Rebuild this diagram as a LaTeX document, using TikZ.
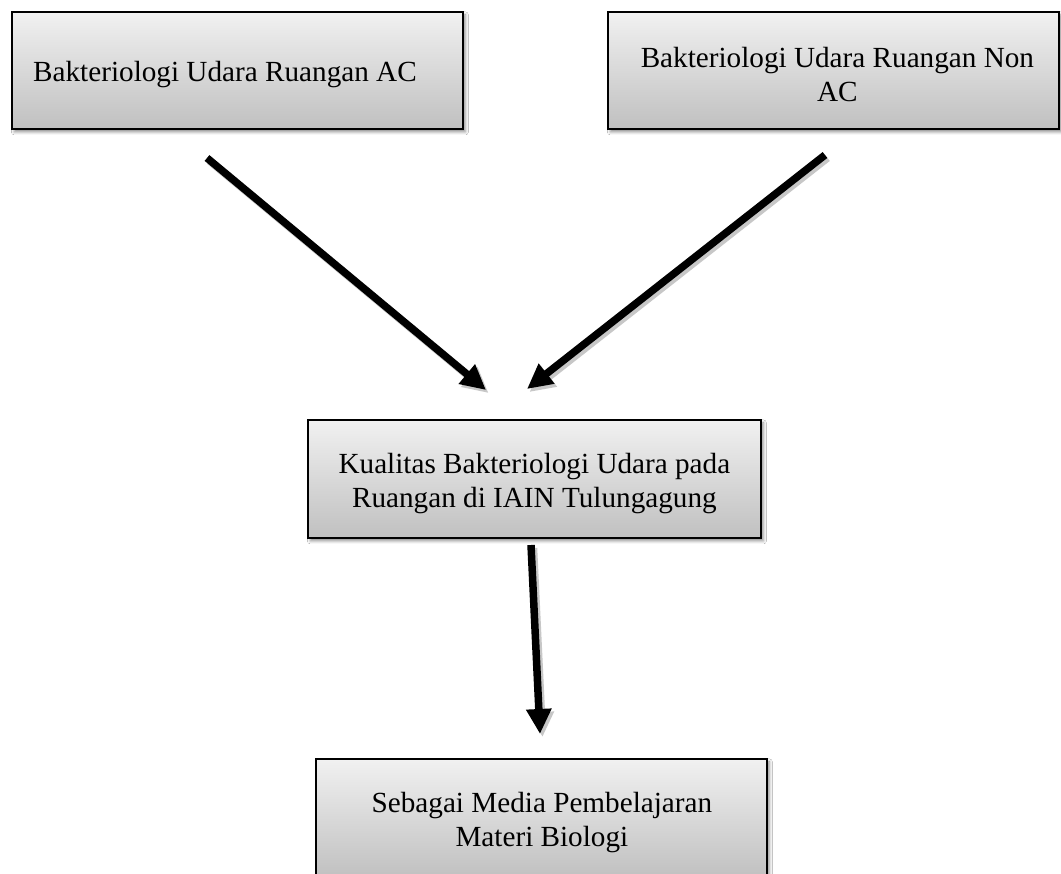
\documentclass[tikz,border=0pt]{standalone}
\usepackage{fontspec}
\setmainfont{Liberation Serif}
\usetikzlibrary{arrows.meta,shadows.blur}
\definecolor{boxtop}{RGB}{241,241,241}
\definecolor{boxbot}{RGB}{192,192,192}
\begin{document}
\begin{tikzpicture}[x=1pt,y=-1pt,
  box/.style={draw=black, line width=1.8pt, top color=boxtop, bottom color=boxbot,
    anchor=north west, inner sep=0pt,
    blur shadow={shadow xshift=2.5pt, shadow yshift=-3pt, shadow blur radius=3pt, shadow opacity=45}},
  lbl/.style={font=\fontsize{29.2pt}{34pt}\selectfont, inner sep=0pt, align=center},
  flow/.style={line width=7.5pt, -{Triangle[length=25pt,width=24pt]}},
  flowshadow/.style={flow, draw=black!22, fill=black!22}]
\clip (0,0) rectangle (1061,874);
\fill[white] (0,0) rectangle (1061,874);

\node[box, minimum width=451pt, minimum height=117pt] (b1) at (11,11) {};
\node[box, minimum width=451pt, minimum height=117pt] (b2) at (607,11) {};
\node[box, minimum width=453pt, minimum height=118pt] (b3) at (307,419) {};
\node[box, minimum width=451pt, minimum height=119pt] (b4) at (315,758) {};

\node[lbl, anchor=west] (t1) at ([xshift=22pt, yshift=-3.7pt]b1.west) {Bakteriologi Udara Ruangan AC};
\node[lbl] (t2) at ([xshift=4pt, yshift=-3.7pt]b2.center) {Bakteriologi Udara Ruangan Non\\AC};
\node[lbl] (t3) at ([yshift=-4.7pt]b3.center) {Kualitas Bakteriologi Udara pada\\Ruangan di IAIN Tulungagung};
\node[lbl] (t4) at ([xshift=0.5pt, yshift=-4.5pt]b4.center) {Sebagai Media Pembelajaran\\Materi Biologi};

\coordinate (a1s) at (207,158); \coordinate (a1e) at (486,390);
\coordinate (a2s) at (825,155); \coordinate (a2e) at (527,389);
\coordinate (a3s) at (531,545); \coordinate (a3e) at (540,734);

\draw[flowshadow] ([shift={(2.5,3)}]a1s) -- ([shift={(2.5,3)}]a1e);
\draw[flowshadow] ([shift={(2.5,3)}]a2s) -- ([shift={(2.5,3)}]a2e);
\draw[flowshadow] ([shift={(2.5,3)}]a3s) -- ([shift={(2.5,3)}]a3e);
\draw[flow] (a1s) -- (a1e);
\draw[flow] (a2s) -- (a2e);
\draw[flow] (a3s) -- (a3e);
\end{tikzpicture}
\end{document}
